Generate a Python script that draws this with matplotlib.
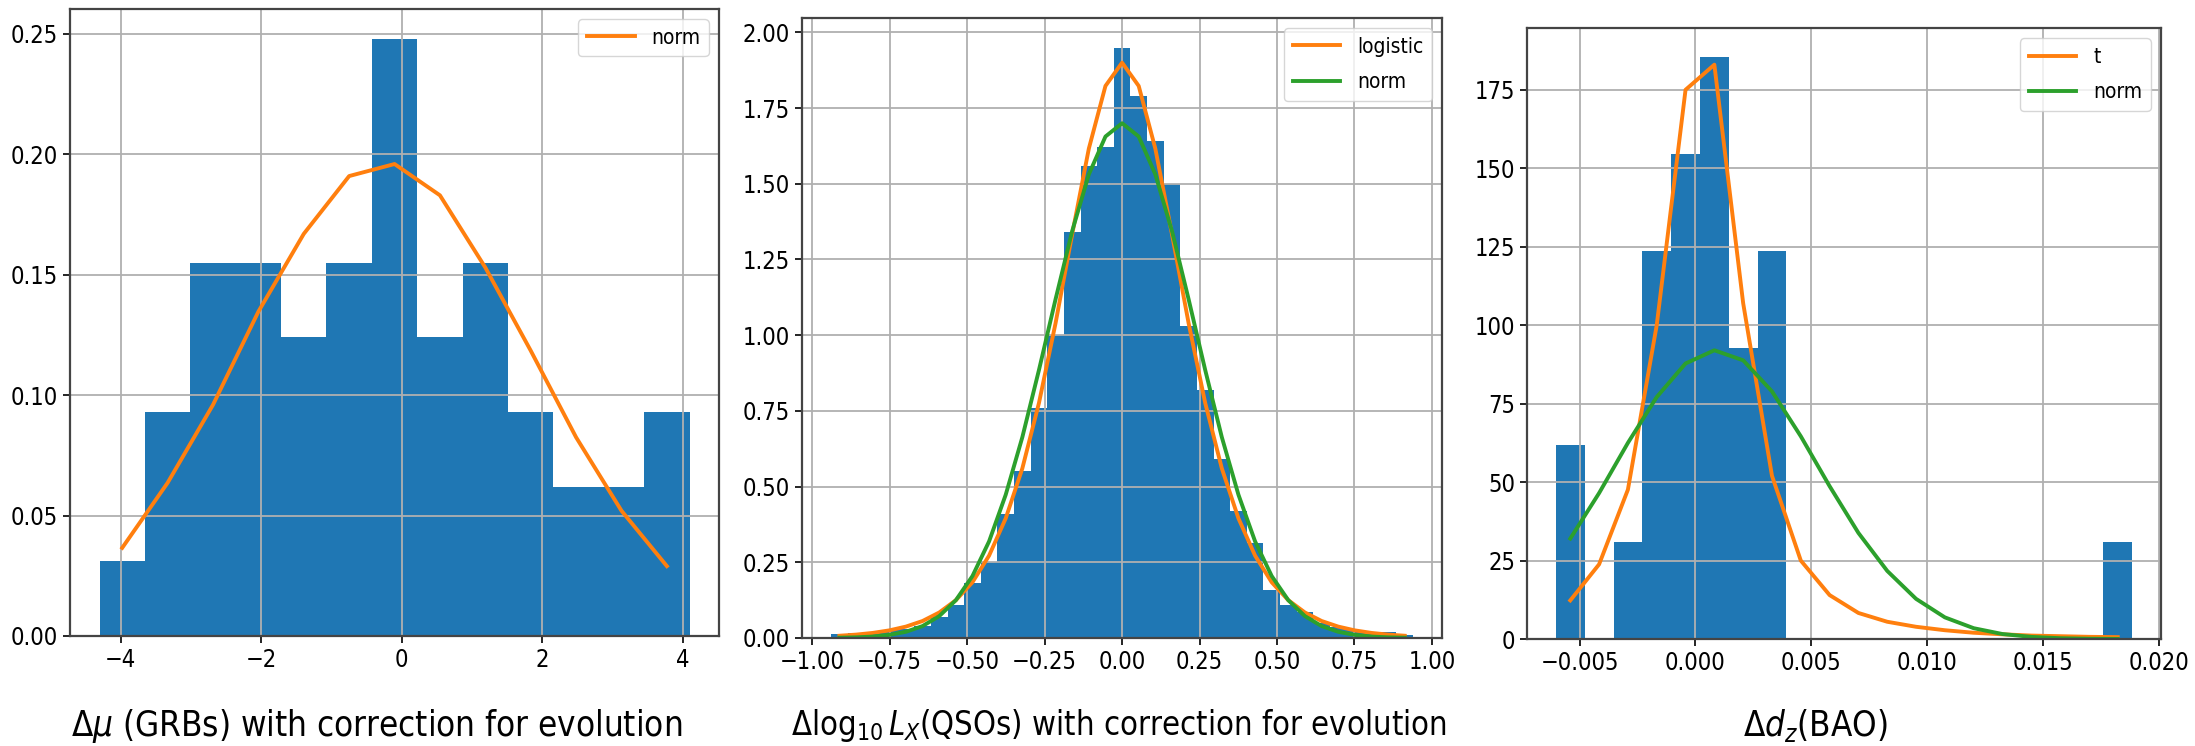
"""Residual histograms with fitted pdfs for GRBs, QSOs and BAO."""

import matplotlib
matplotlib.use("Agg")
import matplotlib.pyplot as plt
import numpy as np

plt.rcParams["font.stretch"] = "condensed"

BLUE = "#1f77b4"
ORANGE = "#ff7f0e"
GREEN = "#2ca02c"

# GRBs: 13 bins, density heights
grb_range = (-4.30, 4.10)
grb_heights = [0.031, 0.093, 0.155, 0.155, 0.124, 0.155, 0.248,
               0.124, 0.155, 0.093, 0.062, 0.062, 0.093]
grb_norm = [0.0366, 0.0636, 0.096, 0.1347, 0.167, 0.191, 0.196,
            0.183, 0.153, 0.1185, 0.0825, 0.052, 0.029]

# QSOs: 35 bins
qso_range = (-0.939, 0.939)
qso_heights = [0.013, 0.015, 0.02, 0.025, 0.03, 0.04, 0.07, 0.11, 0.18,
               0.25, 0.41, 0.55, 0.76, 1.00, 1.34, 1.56, 1.62, 1.95,
               1.79, 1.64, 1.50, 1.03, 0.82, 0.59, 0.42, 0.315, 0.157,
               0.11, 0.085, 0.05, 0.035, 0.025, 0.02, 0.02, 0.01]
qso_logistic = [0.0074, 0.0111, 0.0167, 0.0251, 0.0376, 0.0561, 0.0841,
                0.1247, 0.184, 0.272, 0.395, 0.560, 0.776, 1.040, 1.334,
                1.616, 1.823, 1.900, 1.823, 1.616, 1.334, 1.040, 0.776,
                0.560, 0.395, 0.272, 0.184, 0.1247, 0.0841, 0.0561,
                0.0376, 0.0251, 0.0167, 0.0111, 0.0074]
qso_norm = [0.0009, 0.0021, 0.0047, 0.0102, 0.0205, 0.0394, 0.0721,
            0.1246, 0.2045, 0.319, 0.473, 0.663, 0.885, 1.119, 1.344,
            1.531, 1.656, 1.700, 1.656, 1.531, 1.344, 1.119, 0.885,
            0.663, 0.473, 0.319, 0.2045, 0.1246, 0.0721, 0.0394,
            0.0205, 0.0102, 0.0047, 0.0021, 0.0009]

# BAO: 20 bins
bao_range = (-0.00603, 0.01886)
bao_heights = [61.8, 0, 30.9, 123.6, 154.5, 185.4, 92.7, 123.6, 0, 0,
               0, 0, 0, 0, 0, 0, 0, 0, 0, 30.9]
bao_t = [12.3, 23.8, 47.6, 100, 175, 183, 107, 52, 25, 14, 8.3, 5.5,
         3.9, 2.8, 2.0, 1.5, 1.1, 0.9, 0.7, 0.6]
bao_norm = [32.0, 46.5, 62.5, 77.1, 87.8, 92.0, 88.8, 78.9, 64.6, 48.7,
            33.8, 21.7, 12.8, 6.9, 3.45, 1.59, 0.68, 0.26, 0.09, 0.03]


def draw_panel(ax, rng, heights, curves, xlabel, label_size, label_xy):
    edges = np.linspace(rng[0], rng[1], len(heights) + 1)
    centers = 0.5 * (edges[:-1] + edges[1:])
    ax.bar(edges[:-1], heights, width=np.diff(edges), align="edge",
           color=BLUE, linewidth=0)
    for label, values, color in curves:
        ax.plot(centers, values, color=color, lw=2.8, label=label)
    ax.grid(True, color="#b0b0b0", lw=1.3)
    ax.set_xlabel(xlabel, fontsize=label_size)
    ax.xaxis.set_label_coords(*label_xy)
    ax.tick_params(labelsize=17, length=5, width=1.2)
    for sp in ax.spines.values():
        sp.set_color("#444444")
        sp.set_linewidth(1.6)
    ax.legend(loc="upper right", fontsize=15, handlelength=2.3,
              labelspacing=0.75)


fig = plt.figure(figsize=(21.95, 7.46), dpi=100)
ax1 = fig.add_axes([0.0319, 0.1475, 0.2957, 0.8405])
ax2 = fig.add_axes([0.3654, 0.1448, 0.2916, 0.8311])
ax3 = fig.add_axes([0.6957, 0.1434, 0.2888, 0.8190])

draw_panel(ax1, grb_range, grb_heights, [("norm", grb_norm, ORANGE)],
           r"$\Delta\mu$ (GRBs) with correction for evolution",
           25, (0.472, -0.113))
draw_panel(ax2, qso_range, qso_heights,
           [("logistic", qso_logistic, ORANGE), ("norm", qso_norm, GREEN)],
           r"$\Delta\log_{10}L_X$(QSOs) with correction for evolution",
           23.5, (0.495, -0.111))
draw_panel(ax3, bao_range, bao_heights,
           [("t", bao_t, ORANGE), ("norm", bao_norm, GREEN)],
           r"$\Delta d_z$(BAO)", 25, (0.455, -0.111))

fig.savefig("out.png", dpi=100)
plt.close(fig)
